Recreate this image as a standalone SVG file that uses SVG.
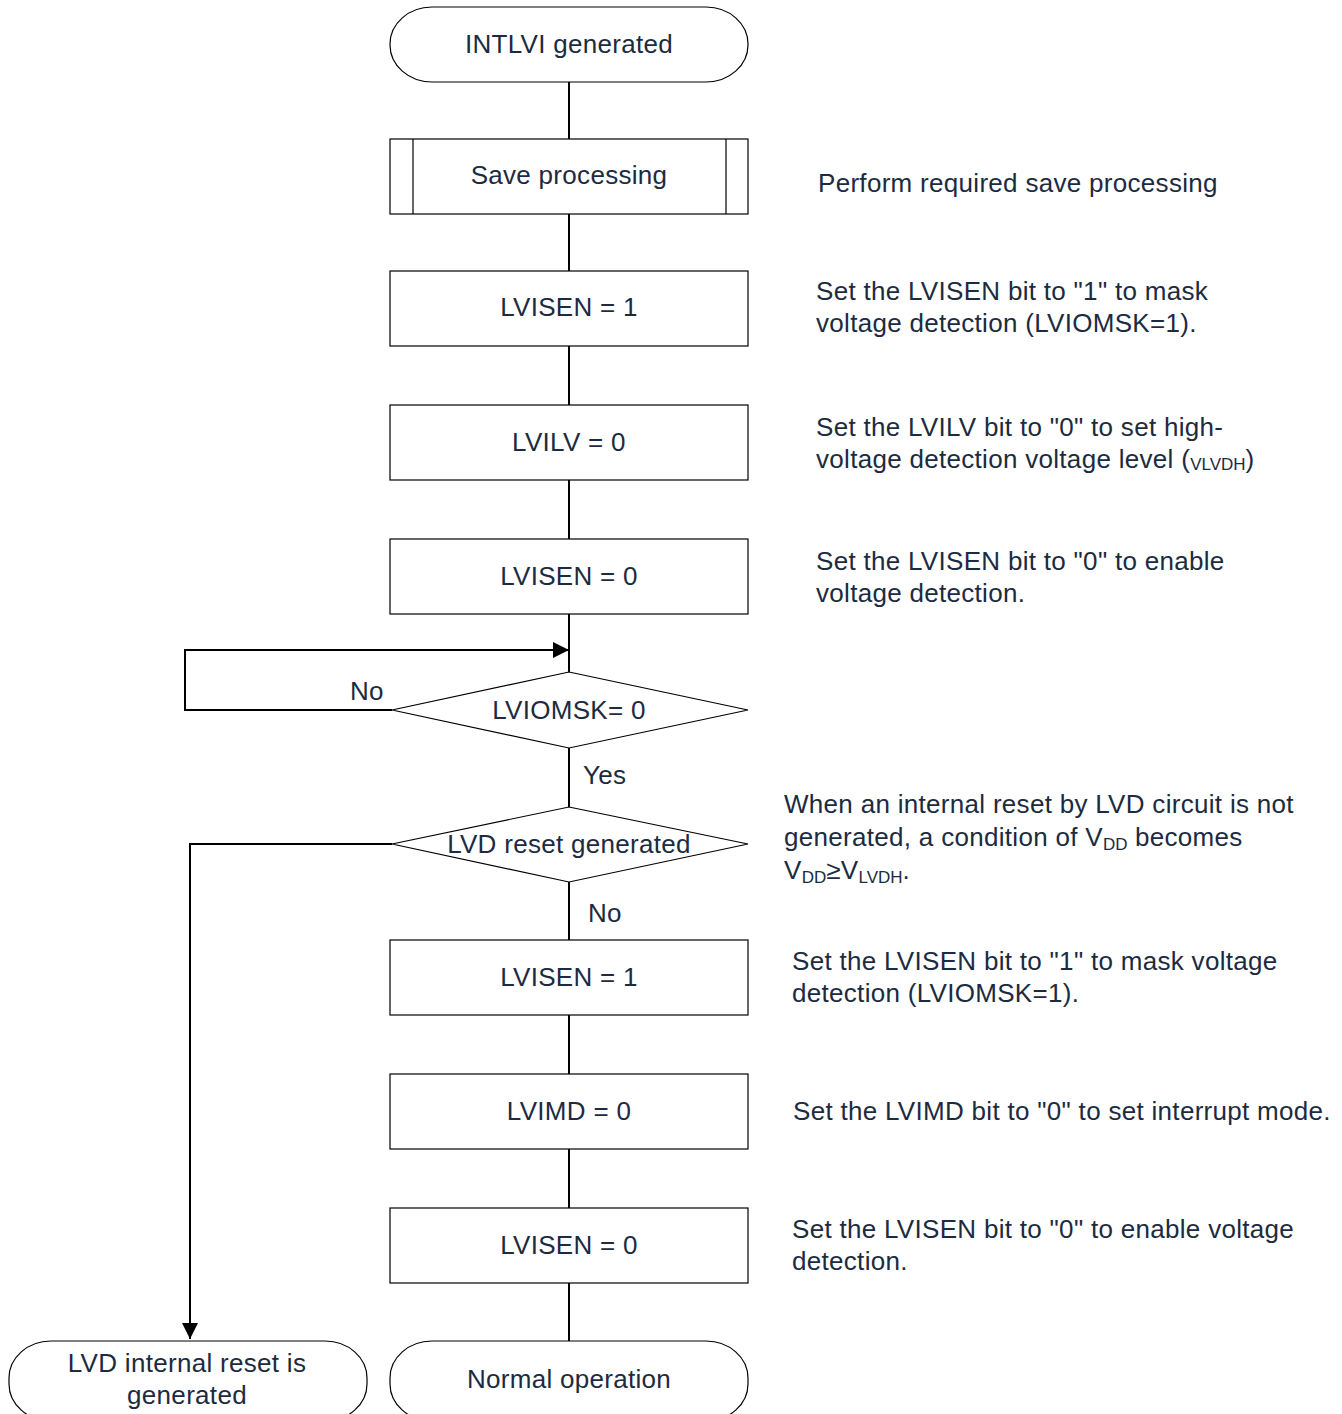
<svg xmlns="http://www.w3.org/2000/svg" width="1342" height="1414" viewBox="0 0 1342 1414">
  <style>
    .shape { fill: #ffffff; stroke: #000000; stroke-width: 1.2; }
    .wire { fill: none; stroke: #000000; stroke-width: 2; }
    text { font-family: "Liberation Sans", Arial, sans-serif; font-size: 26px; fill: #1c2b40; letter-spacing: 0.3px; }
    .mid { text-anchor: middle; }
    .sub { font-size: 17px; letter-spacing: 0; }
  </style>
  <defs>
    <marker id="arrowBig" viewBox="0 0 10 10" refX="10" refY="5" markerWidth="16" markerHeight="16" markerUnits="userSpaceOnUse" orient="auto">
      <path d="M0,0 L10,5 L0,10 Z" fill="#000000"/>
    </marker>
  </defs>

  <!-- connectors -->
  <g id="connectors">
    <line class="wire" x1="569" y1="82" x2="569" y2="139"/>
    <line class="wire" x1="569" y1="214" x2="569" y2="271"/>
    <line class="wire" x1="569" y1="346" x2="569" y2="405"/>
    <line class="wire" x1="569" y1="480" x2="569" y2="539"/>
    <line class="wire" x1="569" y1="614" x2="569" y2="672"/>
    <polyline class="wire" points="392,710 185,710 185,650 569,650" marker-end="url(#arrowBig)"/>
    <line class="wire" x1="569" y1="748" x2="569" y2="807"/>
    <line class="wire" x1="569" y1="882" x2="569" y2="940"/>
    <polyline class="wire" points="392,844 190,844 190,1339" marker-end="url(#arrowBig)"/>
    <line class="wire" x1="569" y1="1015" x2="569" y2="1074"/>
    <line class="wire" x1="569" y1="1149" x2="569" y2="1208"/>
    <line class="wire" x1="569" y1="1283" x2="569" y2="1341"/>
    <text x="350" y="700">No</text>
    <text x="583" y="784">Yes</text>
    <text x="588" y="922">No</text>
  </g>

  <!-- start terminal -->
  <g id="start">
    <rect class="shape" x="390" y="7" width="358" height="75" rx="42" ry="37"/>
    <text class="mid" x="569" y="53">INTLVI generated</text>
  </g>

  <!-- predefined process -->
  <g id="save">
    <rect class="shape" x="390" y="139" width="358" height="75"/>
    <line class="shape" x1="413" y1="139" x2="413" y2="214"/>
    <line class="shape" x1="726" y1="139" x2="726" y2="214"/>
    <text class="mid" x="569" y="184">Save processing</text>
  </g>

  <g id="lvisen1a">
    <rect class="shape" x="390" y="271" width="358" height="75"/>
    <text class="mid" x="569" y="316">LVISEN = 1</text>
  </g>

  <g id="lvilv0">
    <rect class="shape" x="390" y="405" width="358" height="75"/>
    <text class="mid" x="569" y="451">LVILV = 0</text>
  </g>

  <g id="lvisen0a">
    <rect class="shape" x="390" y="539" width="358" height="75"/>
    <text class="mid" x="569" y="585">LVISEN = 0</text>
  </g>

  <g id="check-mask">
    <polygon class="shape" points="569,672 748,710 569,748 392,710"/>
    <text class="mid" x="569" y="719">LVIOMSK= 0</text>
  </g>

  <g id="check-reset">
    <polygon class="shape" points="569,807 748,844 569,882 392,844"/>
    <text class="mid" x="569" y="853">LVD reset generated</text>
  </g>

  <g id="lvisen1b">
    <rect class="shape" x="390" y="940" width="358" height="75"/>
    <text class="mid" x="569" y="986">LVISEN = 1</text>
  </g>

  <g id="lvimd0">
    <rect class="shape" x="390" y="1074" width="358" height="75"/>
    <text class="mid" x="569" y="1120">LVIMD = 0</text>
  </g>

  <g id="lvisen0b">
    <rect class="shape" x="390" y="1208" width="358" height="75"/>
    <text class="mid" x="569" y="1254">LVISEN = 0</text>
  </g>

  <!-- end terminals -->
  <g id="reset-end">
    <rect class="shape" x="9" y="1341" width="358" height="80" rx="42" ry="37"/>
    <text class="mid" x="187" y="1372">LVD internal reset is</text>
    <text class="mid" x="187" y="1404">generated</text>
  </g>

  <g id="normal-end">
    <rect class="shape" x="390" y="1341" width="358" height="80" rx="42" ry="37"/>
    <text class="mid" x="569" y="1388">Normal operation</text>
  </g>

  <!-- side notes -->
  <g id="notes">
    <text x="818" y="192">Perform required save processing</text>
    <text x="816" y="300">Set the LVISEN bit to "1" to mask</text>
    <text x="816" y="332">voltage detection (LVIOMSK=1).</text>
    <text x="816" y="436">Set the LVILV bit to "0" to set high-</text>
    <text x="816" y="468">voltage detection voltage level (<tspan class="sub" dy="2">VLVDH</tspan><tspan dy="-2">)</tspan></text>
    <text x="816" y="570">Set the LVISEN bit to "0" to enable</text>
    <text x="816" y="602">voltage detection.</text>
    <text x="784" y="813">When an internal reset by LVD circuit is not</text>
    <text x="784" y="846">generated, a condition of V<tspan class="sub" dy="4">DD</tspan><tspan dy="-4"> becomes</tspan></text>
    <text x="784" y="879">V<tspan class="sub" dy="4">DD</tspan><tspan dy="-4">≥V</tspan><tspan class="sub" dy="4">LVDH</tspan><tspan dy="-4">.</tspan></text>
    <text x="792" y="970">Set the LVISEN bit to "1" to mask voltage</text>
    <text x="792" y="1002">detection (LVIOMSK=1).</text>
    <text x="793" y="1120">Set the LVIMD bit to "0" to set interrupt mode.</text>
    <text x="792" y="1238">Set the LVISEN bit to "0" to enable voltage</text>
    <text x="792" y="1270">detection.</text>
  </g>
</svg>
